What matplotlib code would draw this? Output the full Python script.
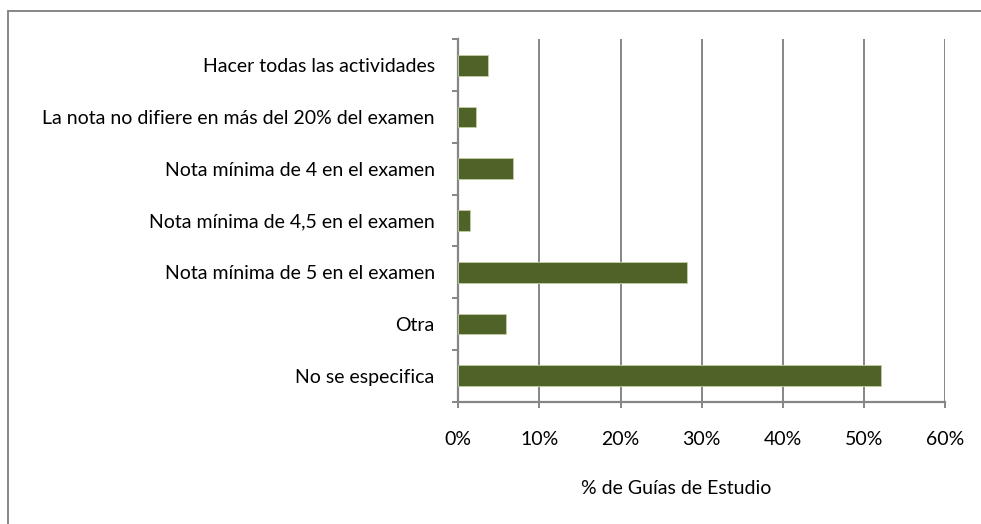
import numpy as np
import matplotlib.pyplot as plt
from matplotlib.patches import Rectangle
from matplotlib.ticker import FixedLocator, PercentFormatter

plt.rcParams['font.family'] = ['Lato', 'DejaVu Sans']

# datos (de arriba hacia abajo)
categorias = ['Hacer todas las actividades',
              'La nota no difiere en más del 20% del examen',
              'Nota mínima de 4 en el examen',
              'Nota mínima de 4,5 en el examen',
              'Nota mínima de 5 en el examen',
              'Otra',
              'No se especifica']
porcentajes = [3.7, 2.2, 6.7, 1.5, 28.2, 5.9, 52.1]

gris = '#868686'
verde = '#4F6228'

fig = plt.figure(figsize=(9.81, 5.24), dpi=100)
ax = fig.add_axes([0.4672, 0.2334, 0.4961, 0.6916])

y = np.arange(len(categorias))[::-1]
ax.barh(y, porcentajes, height=0.4, color=verde, edgecolor='#C3CFA8', linewidth=0.6, zorder=3)

ax.set_xlim(0, 60)
ax.set_ylim(-0.5, len(categorias) - 0.5)
ax.set_xticks(np.arange(0, 61, 10))
ax.xaxis.set_major_formatter(PercentFormatter(decimals=0))
ax.set_yticks(y)
ax.set_yticklabels(categorias)
ax.yaxis.set_minor_locator(FixedLocator(np.arange(-0.5, len(categorias), 1)))

ax.grid(axis='x', color=gris, linewidth=1.4, zorder=0)
for s in ['top', 'right']:
    ax.spines[s].set_visible(False)
for s in ['left', 'bottom']:
    ax.spines[s].set_color(gris)
    ax.spines[s].set_linewidth(1.6)

ax.tick_params(axis='y', which='major', length=0, pad=17, labelsize=14, labelcolor='black')
ax.tick_params(axis='y', which='minor', length=4, width=1.4, color=gris)
ax.tick_params(axis='x', length=4, width=1.4, color=gris, pad=17, labelsize=14)

ax.set_xlabel('% de Guías de Estudio', fontsize=14)
ax.xaxis.set_label_coords(0.448, -0.216)

# borde del área del gráfico
fig.patches.append(Rectangle((8 / 981, -0.1), 1.1, 1 - 10.5 / 524 + 0.1,
                             transform=fig.transFigure, fill=False,
                             edgecolor=gris, linewidth=1.4))

fig.savefig('out.png', dpi=100)
